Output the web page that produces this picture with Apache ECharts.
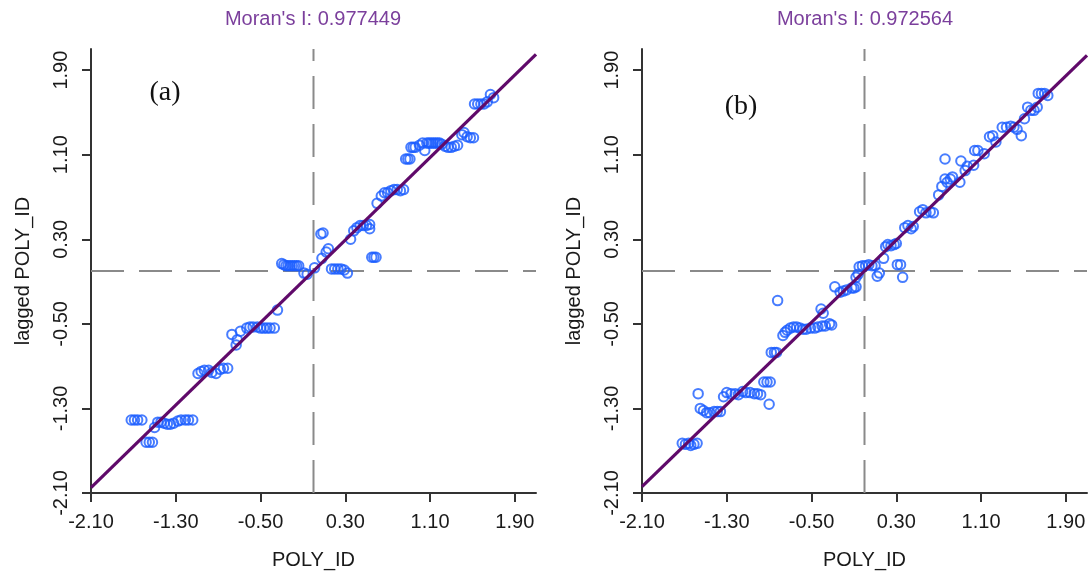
<!DOCTYPE html>
<html>
<head>
    <meta charset="UTF-8">
    <title>Moran scatterplot</title>
    <script type="text/javascript" src="https://cdn.jsdelivr.net/npm/echarts@6/dist/echarts.min.js"></script>
    <style>
        html,body{
            margin: 0;
            padding: 0;
            background: #fff;
        }
        #chart{
            width: 1090px;
            height: 575px;
        }
    </style>
</head>
<body>
<div id="chart"></div>
<script>
    // tick values shared by both axes of both panels
    var tickValues = [-2.1, -1.3, -0.5, 0.3, 1.1, 1.9];
    var axisRange = [-2.1, 2.1];
    var moranA = '0.977449';
    var moranB = '0.972564';

    // (a) POLY_ID vs lagged POLY_ID
    var pointsA = [
        [-1.72,-1.41],[-1.69,-1.41],[-1.66,-1.41],[-1.62,-1.41],
        [-1.58,-1.62],[-1.55,-1.62],[-1.52,-1.62],[-1.50,-1.48],
        [-1.47,-1.43],[-1.44,-1.43],[-1.41,-1.44],[-1.38,-1.45],[-1.35,-1.45],[-1.32,-1.44],
        [-1.28,-1.42],[-1.25,-1.41],[-1.21,-1.41],[-1.18,-1.41],[-1.14,-1.41],
        [-1.09,-0.97],[-1.06,-0.95],[-1.03,-0.94],[-0.99,-0.94],[-0.96,-0.96],[-0.92,-0.97],[-0.88,-0.93],[-0.85,-0.92],[-0.81,-0.92],
        [-0.77,-0.60],[-0.73,-0.70],[-0.72,-0.65],[-0.69,-0.57],
        [-0.63,-0.54],[-0.60,-0.53],[-0.57,-0.53],[-0.53,-0.53],[-0.50,-0.54],[-0.47,-0.54],[-0.44,-0.54],[-0.41,-0.54],[-0.37,-0.54],
        [-0.34,-0.37],
        [-0.30,0.07],[-0.28,0.06],[-0.26,0.05],[-0.24,0.05],[-0.22,0.05],[-0.20,0.05],[-0.18,0.05],[-0.16,0.05],[-0.14,0.05],
        [-0.09,-0.02],[-0.06,-0.03],[0.01,0.03],
        [0.08,0.12],[0.12,0.18],[0.14,0.21],[0.07,0.35],[0.09,0.36],
        [0.17,0.02],[0.20,0.02],[0.23,0.02],[0.26,0.02],[0.29,0.01],[0.32,-0.02],
        [0.35,0.30],
        [0.38,0.38],[0.41,0.41],[0.44,0.43],[0.47,0.43],[0.50,0.43],[0.53,0.40],[0.53,0.44],
        [0.55,0.13],[0.57,0.13],[0.59,0.13],
        [0.60,0.64],
        [0.64,0.71],[0.67,0.74],[0.70,0.74],[0.73,0.76],[0.76,0.77],[0.79,0.77],[0.82,0.76],[0.85,0.77],
        [0.87,1.06],[0.89,1.06],[0.91,1.06],
        [0.92,1.17],[0.94,1.17],[0.96,1.17],
        [1.00,1.19],[1.03,1.21],[1.05,1.14],[1.07,1.21],[1.09,1.21],[1.11,1.21],[1.13,1.21],[1.15,1.21],
        [1.17,1.21],[1.19,1.21],[1.21,1.20],[1.24,1.18],[1.27,1.17],[1.30,1.17],[1.33,1.18],[1.36,1.19],
        [1.40,1.29],[1.42,1.31],[1.45,1.27],[1.48,1.26],[1.51,1.26],
        [1.52,1.58],[1.55,1.58],[1.58,1.58],[1.61,1.58],[1.64,1.60],
        [1.67,1.67],[1.70,1.64]
    ];

    // (b) POLY_ID vs lagged POLY_ID
    var pointsB = [
        [-1.72,-1.63],[-1.69,-1.64],[-1.66,-1.63],[-1.64,-1.65],[-1.61,-1.64],[-1.58,-1.63],
        [-1.57,-1.16],
        [-1.55,-1.30],[-1.52,-1.32],[-1.49,-1.34],[-1.46,-1.34],[-1.42,-1.33],[-1.39,-1.33],[-1.36,-1.33],
        [-1.33,-1.19],[-1.30,-1.15],[-1.26,-1.16],[-1.22,-1.16],[-1.19,-1.17],[-1.15,-1.14],
        [-1.12,-1.15],[-1.08,-1.15],[-1.04,-1.16],[-1.01,-1.16],[-0.98,-1.17],
        [-0.95,-1.05],[-0.92,-1.05],[-0.89,-1.05],
        [-0.90,-1.26],
        [-0.88,-0.77],[-0.85,-0.77],[-0.83,-0.77],
        [-0.82,-0.28],
        [-0.77,-0.61],[-0.75,-0.58],[-0.73,-0.56],[-0.70,-0.54],[-0.67,-0.53],[-0.64,-0.53],[-0.61,-0.54],[-0.58,-0.55],
        [-0.55,-0.55],[-0.51,-0.54],[-0.47,-0.54],[-0.44,-0.53],[-0.40,-0.52],[-0.37,-0.52],[-0.33,-0.50],[-0.31,-0.51],
        [-0.41,-0.36],[-0.39,-0.40],
        [-0.28,-0.15],[-0.23,-0.20],[-0.20,-0.19],[-0.17,-0.18],[-0.12,-0.16],[-0.10,-0.16],[-0.08,-0.15],
        [-0.08,-0.06],[-0.06,-0.03],
        [-0.05,0.04],[-0.02,0.05],[0.01,0.05],[0.04,0.06],[0.07,0.05],[0.10,0.05],
        [0.12,-0.05],[0.14,-0.02],[0.18,0.12],
        [0.20,0.23],[0.22,0.25],[0.25,0.24],[0.28,0.25],[0.30,0.26],
        [0.31,0.06],[0.34,0.06],[0.36,-0.06],
        [0.38,0.41],[0.41,0.43],[0.44,0.40],[0.46,0.42],
        [0.52,0.56],[0.55,0.58],[0.58,0.55],[0.62,0.56],[0.65,0.55],
        [0.70,0.72],[0.73,0.80],[0.76,0.87],[0.78,0.84],[0.81,0.87],[0.83,0.89],[0.90,0.84],
        [0.76,1.06],
        [0.91,1.04],[0.95,0.95],[0.97,0.99],[1.03,1.00],[1.04,1.14],[1.07,1.14],[1.13,1.11],
        [1.18,1.27],[1.21,1.28],[1.24,1.22],
        [1.30,1.36],[1.34,1.36],[1.38,1.37],[1.41,1.36],[1.44,1.34],[1.48,1.28],[1.51,1.44],
        [1.54,1.55],[1.57,1.52],[1.60,1.52],[1.63,1.55],
        [1.64,1.68],[1.67,1.68],[1.70,1.68],[1.73,1.66]
    ];

    // fitted lines (slope = Moran's I) and the mean reference lines
    var fitA = [[-2.1,-2.05],[2.1,2.05]];
    var fitB = [[-2.1,-2.04],[2.1,2.04]];
    var meanVertical = [[0,-2.1],[0,2.1]];
    var meanHorizontal = [[-2.1,0],[2.1,0]];

    var textFont = 'Liberation Sans';

    function makeX(idx){
        return {
            gridIndex: idx,
            type: 'value',
            min: axisRange[0],
            max: axisRange[1],
            name: 'POLY_ID',
            nameLocation: 'middle',
            nameGap: 57,
            nameTextStyle: {fontFamily: textFont, fontSize: 20, color: '#1a1a1a'},
            axisLine: {show: true, onZero: false, lineStyle: {color: '#333', width: 2}},
            axisTick: {show: true, length: 9, customValues: tickValues, lineStyle: {color: '#333', width: 2}},
            axisLabel: {
                customValues: tickValues,
                margin: 19,
                fontFamily: textFont,
                fontSize: 20,
                color: '#1a1a1a',
                formatter: function(v){ return v.toFixed(2); }
            },
            splitLine: {show: false}
        };
    }

    function makeY(idx){
        return {
            gridIndex: idx,
            type: 'value',
            min: axisRange[0],
            max: axisRange[1],
            name: 'lagged POLY_ID',
            nameLocation: 'middle',
            nameRotate: 90,
            nameGap: 58,
            nameTextStyle: {fontFamily: textFont, fontSize: 20, color: '#1a1a1a'},
            axisLine: {show: true, onZero: false, lineStyle: {color: '#333', width: 2}},
            axisTick: {show: true, length: 9, customValues: tickValues, lineStyle: {color: '#333', width: 2}},
            axisLabel: {
                customValues: tickValues,
                rotate: 90,
                margin: 20,
                fontFamily: textFont,
                fontSize: 20,
                color: '#1a1a1a',
                formatter: function(v){ return v.toFixed(2); }
            },
            splitLine: {show: false}
        };
    }

    function panelSeries(idx, points, fit){
        return [
            {
                type: 'line', xAxisIndex: idx, yAxisIndex: idx,
                data: meanVertical, showSymbol: false, silent: true, z: 1,
                lineStyle: {color: '#8a8a8a', width: 2, type: [33, 15]}
            },
            {
                type: 'line', xAxisIndex: idx, yAxisIndex: idx,
                data: meanHorizontal, showSymbol: false, silent: true, z: 1,
                lineStyle: {color: '#8a8a8a', width: 2, type: [33, 15]}
            },
            {
                type: 'scatter', xAxisIndex: idx, yAxisIndex: idx,
                data: points, symbol: 'circle', symbolSize: 9.5, z: 2,
                itemStyle: {color: 'rgba(0,0,0,0)', borderColor: '#1a5cff', borderWidth: 2}
            },
            {
                type: 'line', xAxisIndex: idx, yAxisIndex: idx,
                data: fit, showSymbol: false, silent: true, z: 3,
                lineStyle: {color: '#600a6a', width: 3.2}
            }
        ];
    }

    var chart = echarts.init(document.getElementById('chart'));
    var option = {
        animation: false,
        backgroundColor: '#fff',
        grid: [
            {left: 91, top: 49, width: 445, height: 445},
            {left: 642, top: 49, width: 445, height: 445}
        ],
        xAxis: [makeX(0), makeX(1)],
        yAxis: [makeY(0), makeY(1)],
        graphic: [
            {type: 'text', x: 313, y: 19, style: {text: "Moran's I: " + moranA, align: 'center', verticalAlign: 'middle', fontFamily: textFont, fontSize: 20, fill: '#7b3f9c'}},
            {type: 'text', x: 865, y: 19, style: {text: "Moran's I: " + moranB, align: 'center', verticalAlign: 'middle', fontFamily: textFont, fontSize: 20, fill: '#7b3f9c'}},
            {type: 'text', x: 165, y: 93, style: {text: '(a)', align: 'center', verticalAlign: 'middle', fontFamily: 'Liberation Serif', fontSize: 28, fill: '#111'}},
            {type: 'text', x: 741, y: 107, style: {text: '(b)', align: 'center', verticalAlign: 'middle', fontFamily: 'Liberation Serif', fontSize: 28, fill: '#111'}}
        ],
        series: panelSeries(0, pointsA, fitA).concat(panelSeries(1, pointsB, fitB))
    };
    chart.setOption(option);
</script>
</body>
</html>
